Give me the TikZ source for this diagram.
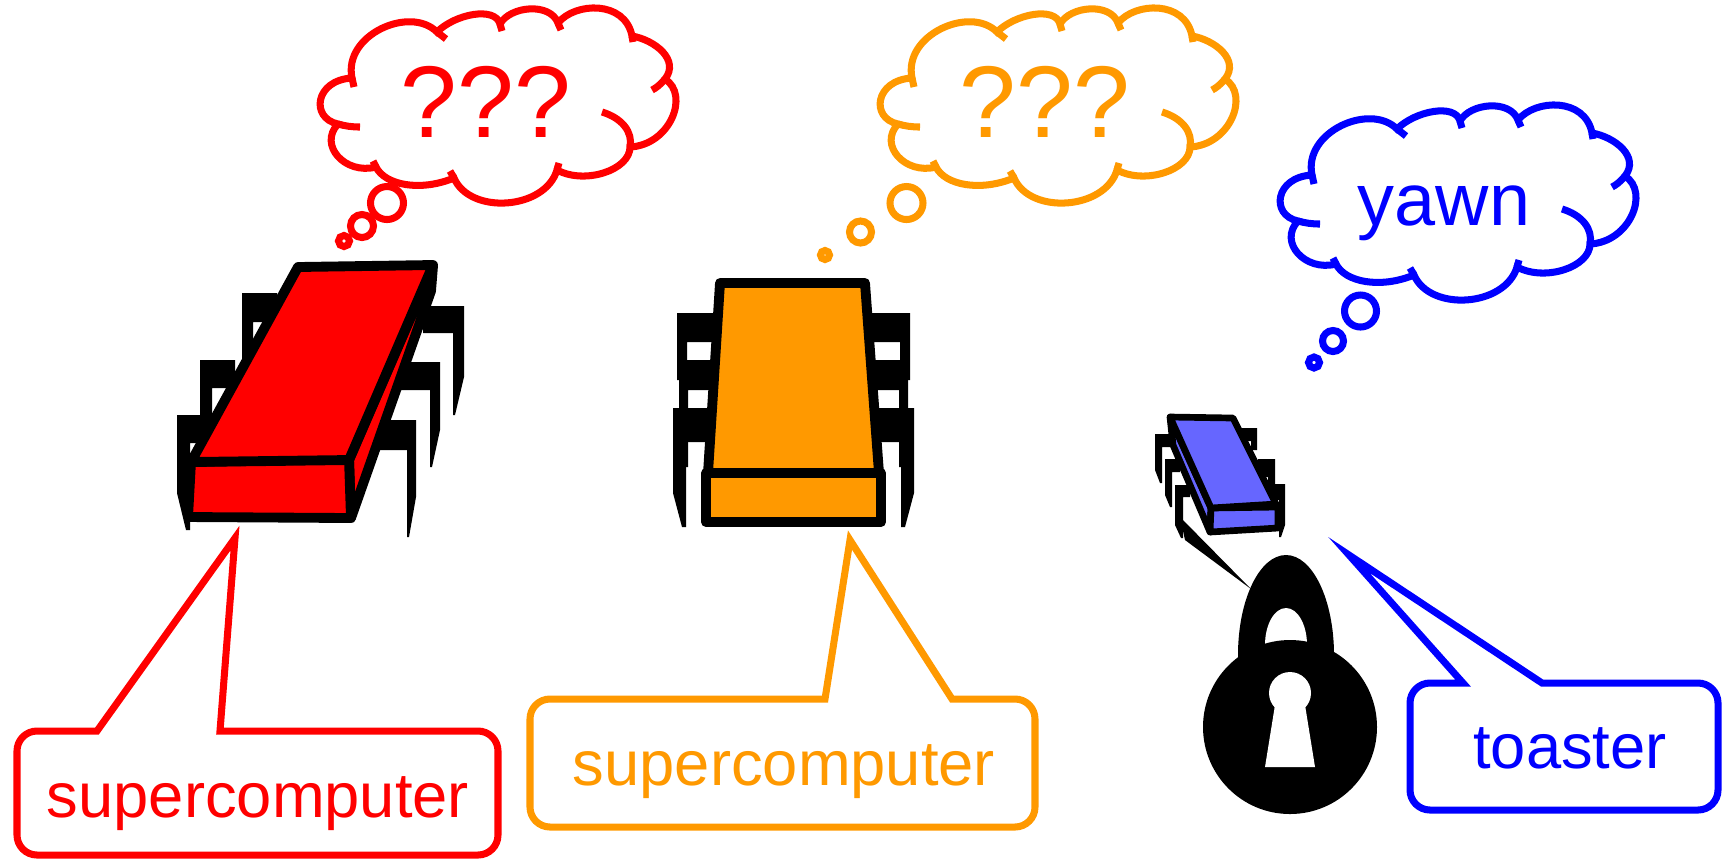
\documentclass[tikz,border=0pt]{standalone}
\usepackage{fontspec}
\setmainfont{Liberation Sans}

\definecolor{hot}{RGB}{255,0,0}
\definecolor{warm}{RGB}{255,153,0}
\definecolor{cool}{RGB}{0,0,255}
\definecolor{coolchip}{RGB}{102,102,255}

\tikzset{
  bubble/.style={line width=2pt, fill=white},
  pin/.style={fill=black},
  body/.style={draw=black, line width=2.8pt, line join=round},
  saying/.style={font=\fontsize{18}{21}\selectfont, anchor=base, inner sep=0pt},
  musing/.style={font=\fontsize{29}{32}\selectfont, anchor=base, inner sep=0pt},
}

% thought cloud: colour, x shift, y shift
\newcommand{\thoughtcloud}[3]{%
  \begin{scope}[shift={(#2,#3)}, line width=2pt, draw=#1]
    \filldraw[fill=white] (352,78)
      .. controls (343,35) and (410,5) .. (437,32)
      .. controls (455,14) and (495,6) .. (500,24)
      .. controls (510,6) and (550,2) .. (558,23)
      .. controls (575,2) and (625,0) .. (632,36)
      .. controls (655,40) and (680,60) .. (665,79)
      .. controls (690,95) and (670,145) .. (630,147)
      .. controls (630,170) and (585,185) .. (557,170)
      .. controls (545,210) and (470,215) .. (454,178)
      .. controls (420,192) and (385,185) .. (376,167)
      .. controls (345,175) and (318,145) .. (338,124)
      .. controls (310,118) and (315,80) .. cycle;
    % little inner strokes where the puffs overlap
    \draw (352,78) -- (354,87);
    \draw (437,32) -- (446,39);
    \draw (500,24) -- (502,31);
    \draw (558,23) -- (561,30);
    \draw (632,36) -- (633,42);
    \draw (665,79) .. controls (660,85) and (656,88) .. (652,90);
    \draw (602,112) .. controls (622,118) and (633,132) .. (630,147);
    \draw (557,170) -- (559,163);
    \draw (454,178) -- (450,171);
    \draw (376,167) -- (373,161);
    \draw (338,124) .. controls (345,126) and (352,127) .. (360,127);
  \end{scope}}

\begin{document}
\begin{tikzpicture}[x=0.01cm, y=-0.01cm]
\useasboundingbox (0,0) rectangle (1724,859);

% clouds
\thoughtcloud{hot}{0}{0}
\thoughtcloud{warm}{560}{0}
\thoughtcloud{cool}{960}{97}

\draw[hot, bubble] (387,203) circle (16.5);
\draw[hot, bubble] (362,226) circle (11.5);
\draw[hot, bubble] (344,241) circle (5.5);
\draw[warm, bubble] (906.5,203) circle (16.5);
\draw[warm, bubble] (860.5,232) circle (11);
\draw[warm, bubble] (825,255) circle (4.5);
\draw[cool, bubble] (1360.5,311) circle (16);
\draw[cool, bubble] (1333,341) circle (10.5);
\draw[cool, bubble] (1314,362.5) circle (5.5);

\node[musing, hot] (thinkRed) at (486,137) {???};
\node[musing, warm] (thinkOrange) at (1045,137) {???};
\node[font=\fontsize{21}{24}\selectfont, anchor=base, inner sep=0pt, cool] (thinkBlue) at (1444,225) {yawn};

% speech callouts
\draw[hot, bubble] (250,855) [rounded corners=2mm] -- (17,855) -- (17,731)
  [sharp corners] -- (97,731) -- (235,538) -- (220,731) [rounded corners=2mm] -- (498,731) -- (498,855) -- cycle;
\draw[warm, bubble] (780,827) [rounded corners=2mm] -- (530,827) -- (530,699)
  [sharp corners] -- (825,699) -- (850,540) -- (952,699) [rounded corners=2mm] -- (1035,699) -- (1035,827) -- cycle;
\draw[cool, bubble] (1560,810) [rounded corners=2mm] -- (1410,810) -- (1410,683)
  [sharp corners] -- (1463,683) -- (1349,555) -- (1542,683) [rounded corners=2mm] -- (1718,683) -- (1718,810) -- cycle;

\node[saying, hot] (lblRed) at (258,817) {supercomputer};
\node[saying, warm] (lblOrange) at (784,785) {supercomputer};
\node[saying, cool] (lblBlue) at (1570,768) {toaster};

% red chip
\fill[pin] (423,306) -- (464,306) -- (464,377) -- (455,415) -- (453,415) -- (453,333) -- (423,333) -- cycle;
\fill[pin] (400,362) -- (440,362) -- (440,430) -- (432,467) -- (430,467) -- (430,390) -- (400,390) -- cycle;
\fill[pin] (372,420) -- (416,420) -- (416,497) -- (409,537) -- (407,537) -- (407,450) -- (372,450) -- cycle;
\fill[pin] (277,293) -- (242,293) -- (242,380) -- (253,390) -- (253,322) -- (277,322) -- cycle;
\fill[pin] (235,360) -- (200,360) -- (200,450) -- (212,455) -- (212,388) -- (235,388) -- cycle;
\fill[pin] (210,415) -- (177,415) -- (177,493) -- (186,530) -- (190,530) -- (190,443) -- (210,443) -- cycle;
\filldraw[body, fill=hot] (433,266) -- (349,460) -- (351,518) -- (431,291) -- cycle;
\filldraw[body, fill=hot] (191,462) -- (349,459) -- (351,518) -- (188,517) -- cycle;
\filldraw[body, fill=hot] (298,267) -- (433,265) -- (349,460) -- (191,462) -- cycle;

% orange chip
\fill[pin] (717,313) -- (677,313) -- (677,380) -- (687,380) -- (687,342) -- (717,342) -- cycle;
\fill[pin] (715,360) -- (679,360) -- (679,440) -- (686,467) -- (688,467) -- (688,390) -- (715,390) -- cycle;
\fill[pin] (713,408) -- (673,408) -- (673,493) -- (682,527) -- (686,527) -- (686,442) -- (713,442) -- cycle;
\fill[pin] (870,313) -- (910,313) -- (910,380) -- (900,380) -- (900,342) -- (870,342) -- cycle;
\fill[pin] (872,360) -- (908,360) -- (908,440) -- (901,467) -- (899,467) -- (899,390) -- (872,390) -- cycle;
\fill[pin] (874,408) -- (914,408) -- (914,493) -- (905,527) -- (901,527) -- (901,442) -- (874,442) -- cycle;
\filldraw[body, fill=warm] (706,473) -- (881,473) -- (881,522) -- (706,522) -- cycle;
\filldraw[body, fill=warm] (720,283) -- (865,283) -- (879,473) -- (708,473) -- cycle;

% blue chip
\fill[pin] (1240,428) -- (1257,428) -- (1257,450) -- (1251,450) -- (1251,441) -- (1240,441) -- cycle;
\fill[pin] (1258,459) -- (1275,459) -- (1275,490) -- (1268,490) -- (1268,477) -- (1258,477) -- cycle;
\fill[pin] (1268,484) -- (1285,484) -- (1285,525) -- (1281,537) -- (1279,537) -- (1279,500) -- (1268,500) -- cycle;
\fill[pin] (1172,434) -- (1155,434) -- (1155,470) -- (1160,483) -- (1162,483) -- (1162,447) -- (1172,447) -- cycle;
\fill[pin] (1180,459) -- (1165,459) -- (1165,495) -- (1170,507) -- (1172,507) -- (1172,472) -- (1180,472) -- cycle;
\fill[pin] (1190,485) -- (1175,485) -- (1175,525) -- (1181,538) -- (1183,538) -- (1183,497) -- (1190,497) -- cycle;
\filldraw[body, line width=1.9pt, fill=coolchip] (1170,417) -- (1211,508) -- (1210,532) -- (1173,445) -- cycle;
\filldraw[body, line width=1.9pt, fill=coolchip] (1211,508) -- (1278,507) -- (1278,528) -- (1210,532) -- cycle;
\filldraw[body, line width=1.9pt, fill=coolchip] (1170,417) -- (1233,418) -- (1276,504) -- (1211,508) -- cycle;

% padlock chained to the toaster
\fill (1180,517) -- (1185,540) -- (1251,589) -- cycle;
\begin{scope}
  \clip (1200,540) rectangle (1380,660);
  \fill (1286,655) ellipse [x radius=48, y radius=100];
  \fill[white] (1286,645) ellipse [x radius=21, y radius=37];
\end{scope}
\fill (1290,727) circle (87);
\fill[white] (1290,693) circle (21);
\fill[white] (1275,705) -- (1305,705) -- (1315,767) -- (1265,767) -- cycle;
\end{tikzpicture}
\end{document}
